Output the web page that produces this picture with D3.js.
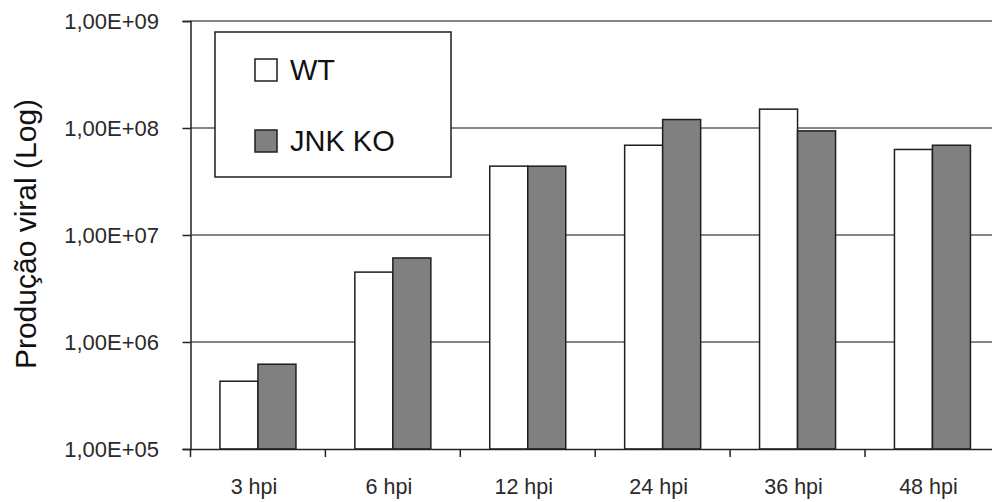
<!DOCTYPE html>
<html>
<head>
<meta charset="utf-8">
<script src="https://cdn.jsdelivr.net/npm/d3@7"></script>
<style>
  body { margin: 0; background: #fff; }
  svg { display: block; font-family: "Liberation Sans", Arial, sans-serif; }
</style>
</head>
<body>
<div id="chart"></div>
<script>
// values
const categories = ['3 hpi', '6 hpi', '12 hpi', '24 hpi', '36 hpi', '48 hpi'];
const seriesNames = ['WT', 'JNK KO'];
const wtValues = [4.3e5, 4.5e6, 4.4e7, 6.9e7, 1.5e8, 6.3e7];
const koValues = [6.2e5, 6.1e6, 4.4e7, 1.2e8, 9.4e7, 6.9e7];
const yTicks = [1e5, 1e6, 1e7, 1e8, 1e9];
const yTickLabels = ['1,00E+05', '1,00E+06', '1,00E+07', '1,00E+08', '1,00E+09'];

const colors = { 'WT': '#ffffff', 'JNK KO': '#808080' };

const W = 992, H = 502;
const plotLeft = 190.5, plotTop = 21, plotBottom = 449;
const step = 134.9;

const svg = d3.select('#chart').append('svg')
  .attr('width', W)
  .attr('height', H);

const x = d3.scaleBand()
  .domain(categories)
  .range([plotLeft, plotLeft + step * categories.length])
  .padding(0);

const barW = 38;
const x1 = d3.scaleBand()
  .domain(seriesNames)
  .range([(x.bandwidth() - 2 * barW) / 2, (x.bandwidth() + 2 * barW) / 2]);

const y = d3.scaleLog()
  .domain([1e5, 1e9])
  .range([plotBottom, plotTop]);

// gridlines
svg.append('g')
  .selectAll('line')
  .data(yTicks.slice(1))
  .join('line')
  .attr('x1', plotLeft)
  .attr('x2', W)
  .attr('y1', d => y(d))
  .attr('y2', d => y(d))
  .attr('stroke', '#858585')
  .attr('stroke-width', 2);

// bars
const table = categories.map((c, i) => ({ cat: c, vals: [
  { name: 'WT', v: wtValues[i] },
  { name: 'JNK KO', v: koValues[i] }
]}));

svg.append('g')
  .selectAll('g')
  .data(table)
  .join('g')
  .attr('transform', d => 'translate(' + x(d.cat) + ',0)')
  .selectAll('rect')
  .data(d => d.vals)
  .join('rect')
  .attr('x', d => x1(d.name))
  .attr('width', x1.bandwidth())
  .attr('y', d => y(d.v))
  .attr('height', d => plotBottom - y(d.v))
  .attr('fill', d => colors[d.name])
  .attr('stroke', '#1e1e1e')
  .attr('stroke-width', 1.5);

// y axis
const yAxis = d3.axisLeft(y)
  .tickValues(yTicks)
  .tickFormat((d, i) => yTickLabels[i])
  .tickSize(8)
  .tickPadding(23.5);

const ya = svg.append('g')
  .attr('transform', 'translate(' + plotLeft + ',0)')
  .call(yAxis);
ya.select('.domain').attr('stroke', '#222').attr('stroke-width', 1.5);
ya.selectAll('.tick line').attr('stroke', '#222').attr('stroke-width', 1.5);
ya.selectAll('.tick text')
  .attr('fill', '#2a2a2a')
  .style('font-size', '22px')
  .style('font-family', '"Liberation Sans", Arial, sans-serif');

// x axis
const xAxis = d3.axisBottom(x)
  .tickSize(0)
  .tickPadding(30);

const xa = svg.append('g')
  .attr('transform', 'translate(0,' + plotBottom + ')')
  .call(xAxis);
xa.select('.domain').attr('stroke', '#222').attr('stroke-width', 1.5);
xa.selectAll('.tick text')
  .attr('fill', '#2a2a2a')
  .attr('dx', -4)
  .style('font-size', '21.5px')
  .style('font-family', '"Liberation Sans", Arial, sans-serif');

// category separator ticks
xa.append('g')
  .selectAll('line')
  .data(categories)
  .join('line')
  .attr('x1', d => x(d))
  .attr('x2', d => x(d))
  .attr('y1', 0)
  .attr('y2', 8)
  .attr('stroke', '#222')
  .attr('stroke-width', 1.5);

// y axis title
svg.append('text')
  .attr('transform', 'translate(36,' + 234 + ') rotate(-90)')
  .attr('text-anchor', 'middle')
  .attr('fill', '#111')
  .style('font-size', '30px')
  .text('Produção viral (Log)');

// legend
const lg = svg.append('g');
lg.append('rect')
  .attr('x', 215).attr('y', 32)
  .attr('width', 236).attr('height', 145)
  .attr('fill', '#fff')
  .attr('stroke', '#1e1e1e')
  .attr('stroke-width', 1.5);

const li = lg.selectAll('g.item')
  .data(seriesNames)
  .join('g')
  .attr('class', 'item')
  .attr('transform', (d, i) => 'translate(255,' + (59 + i * 71) + ')');

li.append('rect')
  .attr('width', 22).attr('height', 22)
  .attr('fill', d => colors[d])
  .attr('stroke', '#1e1e1e')
  .attr('stroke-width', 1.5);

li.append('text')
  .attr('x', 35)
  .attr('y', 21)
  .attr('fill', '#111')
  .style('font-size', '29px')
  .text(d => d);
</script>
</body>
</html>
